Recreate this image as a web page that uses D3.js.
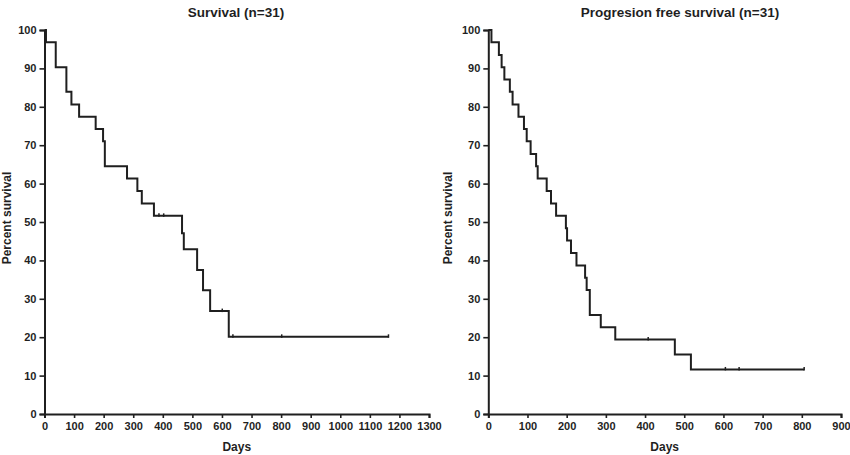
<!DOCTYPE html>
<html>
<head>
<meta charset="utf-8">
<script src="https://cdn.jsdelivr.net/npm/d3@7"></script>
<style>
	body { margin: 0; background: #fff; }
	svg { display: block; font-family: "Liberation Sans", Arial, sans-serif; }
	.axis path, .axis line { stroke: #1f1f1f; }
	.axis text { fill: #1f1f1f; font-size: 11px; font-weight: bold; }
	.title { font-size: 13.5px; font-weight: bold; fill: #1f1f1f; }
	.label { font-size: 12px; font-weight: bold; fill: #1f1f1f; }
</style>
</head>
<body>
<script>
// 全生存期間 (左)
var osTimes = [0, 5, 38, 74, 91, 117, 173, 198, 204, 279, 314, 329, 370, 465, 471, 516, 536, 560, 623, 1163];
var osSurv  = [100, 96.8, 90.3, 83.9, 80.6, 77.4, 74.2, 71.0, 64.5, 61.3, 58.1, 54.8, 51.6, 47.1, 42.9, 37.5, 32.2, 26.8, 20.1, 20.1];
var osCensored = [387, 403, 601, 637, 802, 1163];
var osXTicks = [0, 100, 200, 300, 400, 500, 600, 700, 800, 900, 1000, 1100, 1200, 1300];

// 無増悪生存期間 (右)
var pfsTimes = [0, 8, 27, 34, 41, 55, 62, 77, 91, 98, 108, 122, 126, 149, 160, 173, 198, 201, 211, 225, 247, 251, 259, 287, 324, 476, 517, 806];
var pfsSurv  = [100, 96.8, 93.5, 90.3, 87.1, 83.9, 80.6, 77.4, 74.2, 71.0, 67.7, 64.5, 61.3, 58.1, 54.8, 51.6, 48.4, 45.2, 41.9, 38.7, 35.5, 32.3, 25.8, 22.6, 19.4, 15.5, 11.6, 11.6];
var pfsCensored = [408, 605, 640, 806];
var pfsXTicks = [0, 100, 200, 300, 400, 500, 600, 700, 800, 900];

var yTicks = [0, 10, 20, 30, 40, 50, 60, 70, 80, 90, 100];

var svg = d3.select("body").append("svg")
	.attr("width", 850)
	.attr("height", 455);

// KM曲線を1枚描画する
function drawPanel(opt){
	var x = d3.scaleLinear().domain([0, opt.xMax]).range([opt.left, opt.right]);
	var y = d3.scaleLinear().domain([0, 100]).range([414, 30]);

	var g = svg.append("g");

	// X軸
	g.append("g")
		.attr("class", "axis")
		.attr("transform", "translate(0,414)")
		.call(d3.axisBottom(x).tickValues(opt.xTicks).tickFormat(d3.format("d")).tickSizeOuter(0).tickSize(4).tickPadding(4))
		.call(function(a){
			a.select(".domain").attr("stroke-width", 2);
			a.selectAll(".tick line").attr("stroke-width", 1.6);
		});
	// Y軸
	g.append("g")
		.attr("class", "axis")
		.attr("transform", "translate(" + opt.left + ",0)")
		.call(d3.axisLeft(y).tickValues(yTicks).tickSizeOuter(0).tickSize(5).tickPadding(3))
		.call(function(a){
			a.select(".domain").attr("stroke-width", 2);
			a.selectAll(".tick line").attr("stroke-width", 1.6);
		});

	// 生存曲線 (階段状)
	var pts = opt.times.map(function(t, i){ return {t: t, s: opt.surv[i]}; });
	var line = d3.line()
		.x(function(d){ return x(d.t); })
		.y(function(d){ return y(d.s); })
		.curve(d3.curveStepAfter);
	g.append("path")
		.datum(pts)
		.attr("fill", "none")
		.attr("stroke", "#1f1f1f")
		.attr("stroke-width", 2)
		.attr("d", line);

	// 打ち切りマーク
	function survAt(t){
		var s = opt.surv[0];
		opt.times.forEach(function(tt, i){ if(tt <= t) s = opt.surv[i]; });
		return s;
	}
	g.selectAll(".cens")
		.data(opt.censored)
		.enter().append("line")
		.attr("x1", function(d){ return x(d); })
		.attr("x2", function(d){ return x(d); })
		.attr("y1", function(d){ return y(survAt(d)) - 2.5; })
		.attr("y2", function(d){ return y(survAt(d)) + 1; })
		.attr("stroke", "#1f1f1f")
		.attr("stroke-width", 1.5);

	// タイトル・軸ラベル
	g.append("text")
		.attr("class", "title")
		.attr("x", opt.titleX)
		.attr("y", 17)
		.attr("text-anchor", "middle")
		.text(opt.title);
	g.append("text")
		.attr("class", "label")
		.attr("x", (opt.left + opt.right) / 2)
		.attr("y", 451)
		.attr("text-anchor", "middle")
		.text("Days");
	g.append("text")
		.attr("class", "label")
		.attr("transform", "translate(" + opt.ylabX + ",218) rotate(-90)")
		.attr("text-anchor", "middle")
		.text("Percent survival");
}

drawPanel({
	left: 44.5, right: 429, xMax: 1300, xTicks: osXTicks,
	times: osTimes, surv: osSurv, censored: osCensored,
	title: "Survival (n=31)", titleX: 236, ylabX: 10.5
});
drawPanel({
	left: 488.3, right: 841, xMax: 900, xTicks: pfsXTicks,
	times: pfsTimes, surv: pfsSurv, censored: pfsCensored,
	title: "Progresion free survival (n=31)", titleX: 680, ylabX: 451.5
});
</script>
</body>
</html>
